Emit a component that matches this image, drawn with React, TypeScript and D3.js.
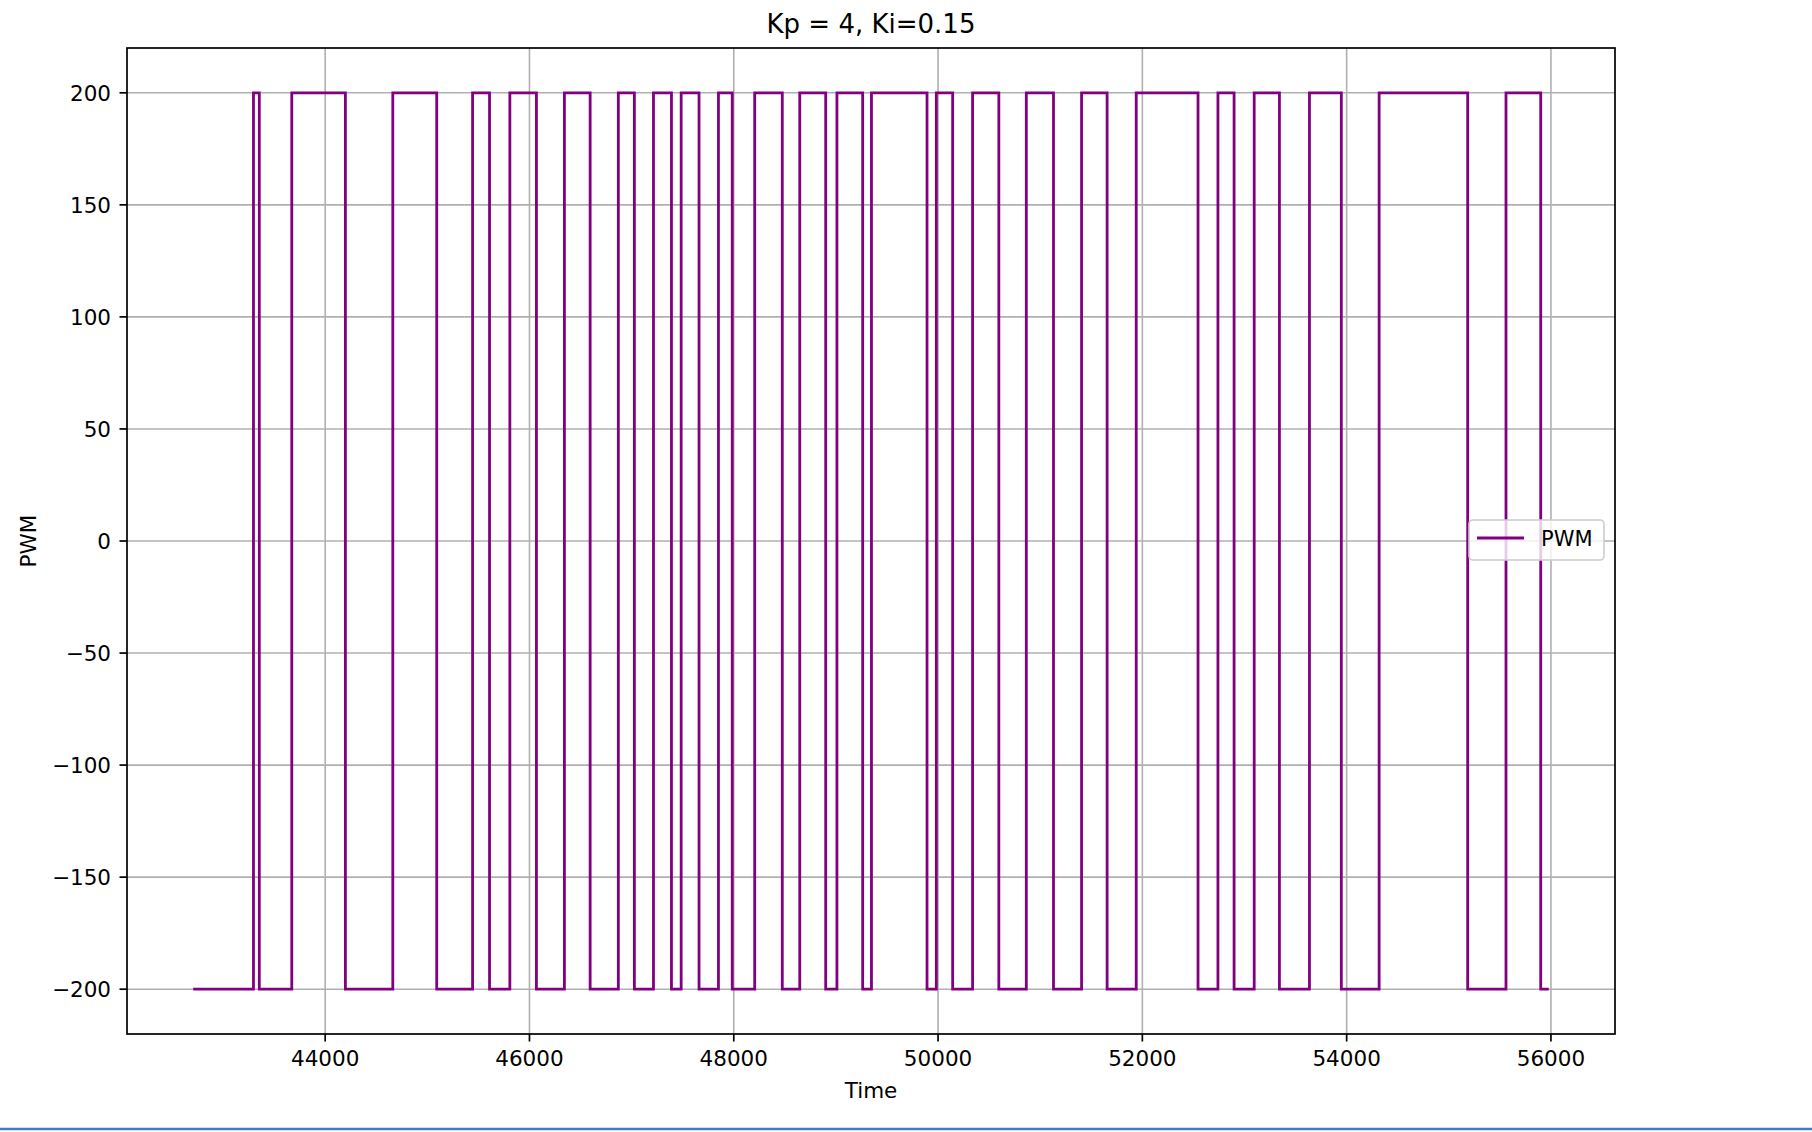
import React from "react";
import * as d3 from "d3";

// Switching instants (Time) and the PWM level held from each instant on
const times = [
  42722, 43298, 43355, 43673, 44198, 44662, 45092, 45443, 45609, 45808,
  46068, 46342, 46594, 46870, 47027, 47214, 47390, 47485, 47660, 47850,
  47985, 48205, 48475, 48646, 48900, 49010, 49262, 49348, 49892, 49983,
  50143, 50338, 50595, 50864, 51130, 51405, 51655, 51940, 52545, 52740,
  52898, 53095, 53342, 53636, 53948, 54318, 55185, 55560, 55900, 55965,
];
const pwm = [
  -200, 200, -200, 200, -200, 200, -200, 200, -200, 200,
  -200, 200, -200, 200, -200, 200, -200, 200, -200, 200,
  -200, 200, -200, 200, -200, 200, -200, 200, -200, 200,
  -200, 200, -200, 200, -200, 200, -200, 200, -200, 200,
  -200, 200, -200, 200, -200, 200, -200, 200, -200, -200,
];
const xTicks = [44000, 46000, 48000, 50000, 52000, 54000, 56000];
const yTicks = [-200, -150, -100, -50, 0, 50, 100, 150, 200];
const title = "Kp = 4, Ki=0.15";
const xLabel = "Time";
const yLabel = "PWM";
const seriesName = "PWM";

const W = 1812;
const H = 1132;
const L = 127;
const R = 1615;
const T = 48;
const B = 1034;
const FONT = "'DejaVu Sans', sans-serif";
const PURPLE = "#800080";

const fmt = (v: number) => (v < 0 ? "\u2212" + Math.abs(v) : String(v));

export default function App() {
  const [x0, x1] = d3.extent(times) as [number, number];
  const pad = (x1 - x0) * 0.05;
  const x = d3.scaleLinear().domain([x0 - pad, x1 + pad]).range([L, R]);
  const [y0, y1] = d3.extent(pwm) as [number, number];
  const ypad = (y1 - y0) * 0.05;
  const y = d3.scaleLinear().domain([y0 - ypad, y1 + ypad]).range([B, T]);

  const pts = times.map((t, i) => [t, pwm[i]] as [number, number]);
  const path = d3
    .line<[number, number]>()
    .x((d) => x(d[0]))
    .y((d) => y(d[1]))
    .curve(d3.curveStepAfter)(pts) as string;

  const legX = 1469;
  const legY = 520;

  return (
    <svg
      width={W}
      height={H}
      style={{ position: "absolute", left: 0, top: 0, background: "#fff" }}
      fontFamily={FONT}
    >
      <rect x={0} y={0} width={W} height={H} fill="#fff" />
      {/* grid */}
      {xTicks.map((t) => (
        <line key={"gx" + t} x1={x(t)} x2={x(t)} y1={T} y2={B} stroke="#b0b0b0" strokeWidth={1.6} />
      ))}
      {yTicks.map((t) => (
        <line key={"gy" + t} x1={L} x2={R} y1={y(t)} y2={y(t)} stroke="#b0b0b0" strokeWidth={1.6} />
      ))}
      {/* data */}
      <path d={path} fill="none" stroke={PURPLE} strokeWidth={2.8} strokeLinejoin="miter" strokeLinecap="square" />
      {/* spines */}
      <rect x={L} y={T} width={R - L} height={B - T} fill="none" stroke="#000" strokeWidth={1.7} />
      {/* x ticks */}
      {xTicks.map((t) => (
        <g key={"xt" + t}>
          <line x1={x(t)} x2={x(t)} y1={B} y2={B + 7.5} stroke="#000" strokeWidth={1.7} />
          <text x={x(t)} y={B + 32} textAnchor="middle" fontSize={21.5} fill="#000">
            {fmt(t)}
          </text>
        </g>
      ))}
      {/* y ticks */}
      {yTicks.map((t) => (
        <g key={"yt" + t}>
          <line x1={L - 7.5} x2={L} y1={y(t)} y2={y(t)} stroke="#000" strokeWidth={1.7} />
          <text x={L - 16} y={y(t)} dy="0.36em" textAnchor="end" fontSize={21.5} fill="#000">
            {fmt(t)}
          </text>
        </g>
      ))}
      {/* labels */}
      <text x={(L + R) / 2} y={33} textAnchor="middle" fontSize={26} fill="#000">
        {title}
      </text>
      <text x={(L + R) / 2} y={1098} textAnchor="middle" fontSize={21.5} fill="#000">
        {xLabel}
      </text>
      <text
        transform={`translate(${36},${(T + B) / 2}) rotate(-90)`}
        textAnchor="middle"
        fontSize={21.5}
        fill="#000"
      >
        {yLabel}
      </text>
      {/* legend */}
      <rect
        x={legX}
        y={legY}
        width={135}
        height={40}
        rx={4}
        fill="#fff"
        fillOpacity={0.8}
        stroke="#cccccc"
        strokeWidth={1.6}
      />
      <line x1={legX + 8} x2={legX + 55} y1={legY + 18} y2={legY + 18} stroke={PURPLE} strokeWidth={2.8} />
      <text x={legX + 72} y={legY + 26} fontSize={21} fill="#000">
        {seriesName}
      </text>
      {/* bottom blue edge of the screenshot */}
      <line x1={0} x2={W} y1={1129} y2={1129} stroke="#3d7fc8" strokeWidth={2.5} />
    </svg>
  );
}
